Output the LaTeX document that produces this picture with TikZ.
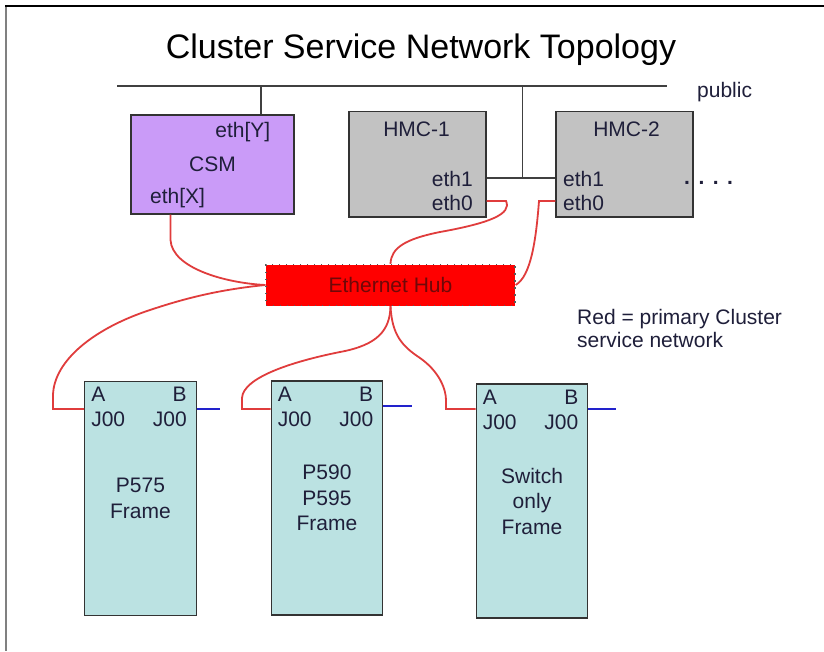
\documentclass[tikz,border=0pt]{standalone}
\usepackage{fontspec}
\setmainfont{Liberation Sans}
\definecolor{txt}{HTML}{1F1F3A}
\definecolor{csmfill}{HTML}{CA9BF8}
\definecolor{hmcfill}{HTML}{C2C2C2}
\definecolor{framefill}{HTML}{BBE2E2}
\definecolor{redline}{HTML}{E03C3C}
\definecolor{blueline}{HTML}{2222CC}
\definecolor{boxline}{HTML}{333333}
\definecolor{hubtext}{HTML}{700808}
\begin{document}
\begin{tikzpicture}[x=1pt,y=-1pt,
  lbl/.style={inner sep=0pt, text=txt, font=\fontsize{21}{25.5}\selectfont},
  box/.style={draw=boxline, line width=1.4pt, inner sep=0pt, text=txt,
              font=\fontsize{21}{25.5}\selectfont, align=center},
  csmbox/.style={box, fill=csmfill, minimum width=163pt, minimum height=99pt},
  hmcbox/.style={box, fill=hmcfill, minimum width=137pt, minimum height=105.5pt},
  framebox/.style={box, fill=framefill, minimum width=111.5pt, minimum height=234pt},
  hubbox/.style={fill=red, draw=black!65, line width=1.3pt, dash pattern=on 1.4pt off 5.6pt,
                 minimum width=249pt, minimum height=41pt, inner sep=0pt, text=hubtext,
                 font=\fontsize{21}{25.5}\selectfont},
  redlink/.style={draw=redline, line width=1.8pt},
  bluelink/.style={draw=blueline, line width=1.8pt},
  publink/.style={draw=black!75, line width=1.7pt},
]
\useasboundingbox (0,0) rectangle (824,651);
\fill[white] (0,0) rectangle (824,651);
% page frame
\draw[gray, line width=2pt] (6,5) -- (6,651);
\draw[black, line width=1.6pt] (5,6) -- (824,6);

% title
\node[lbl, anchor=base, text=black, font=\fontsize{34}{38}\selectfont] (title) at (421,58) {Cluster Service Network Topology};

% public network
\coordinate (pubL) at (117,86);
\coordinate (pubR) at (667,86);
\coordinate (pubCSM) at (261,86);
\coordinate (pubHMC) at (522.5,86);
\draw[publink] (pubL) -- (pubR);
\node[lbl, anchor=base west] (public) at (697,97) {public};

% boxes
\node[csmbox] (csm) at (212.5,164.5) {CSM};
\node[hmcbox] (hmc1) at (417.5,164.25) {};
\node[hmcbox] (hmc2) at (624.5,164.25) {};
\node[hubbox] (hub) at (390.5,285) {Ethernet Hub};
\node[framebox] (f1) at (140.5,498.5) {P575\\Frame};
\node[framebox] (f2) at (327,498) {P590\\P595\\Frame};
\node[framebox] (f3) at (532,501) {Switch\\only\\Frame};

% box labels
\node[lbl, anchor=base east] (ethY) at (270.5,137) {eth[Y]};
\node[lbl, anchor=base west] (ethX) at (150,203) {eth[X]};
\node[lbl, anchor=base] (hmc1t) at (416.5,136) {HMC-1};
\node[lbl, anchor=base east] (h1eth1) at (473,186) {eth1};
\node[lbl, anchor=base east] (h1eth0) at (473,210) {eth0};
\node[lbl, anchor=base] (hmc2t) at (626.5,136) {HMC-2};
\node[lbl, anchor=base west] (h2eth1) at (563,186) {eth1};
\node[lbl, anchor=base west] (h2eth0) at (563,210) {eth0};
\node[lbl, anchor=base west, font=\bfseries\fontsize{21}{25.5}\selectfont] (dots) at (684,184) {.\hspace{8.5pt}.\hspace{8.5pt}.\hspace{8.5pt}.};

% frame port labels
\foreach \f in {f1,f2,f3}{
  \node[lbl, anchor=base west] (\f A) at ([shift={(7,21)}]\f.north west) {A};
  \node[lbl, anchor=base east] (\f B) at ([shift={(-10,21)}]\f.north east) {B};
  \node[lbl, anchor=base west] (\f J) at ([shift={(7,46)}]\f.north west) {J00};
  \node[lbl, anchor=base east] (\f K) at ([shift={(-10,46)}]\f.north east) {J00};
}

% legend
\node[lbl, anchor=base west] (leg1) at (577,324) {Red = primary Cluster};
\node[lbl, anchor=base west] (leg2) at (577,347) {service network};

% public connections
\draw[publink] (pubCSM) -- (pubCSM |- csm.north);
\coordinate (h1e1) at (hmc1.east |- 0,178);
\coordinate (h2e1) at (hmc2.west |- 0,178);
\draw[publink] (pubHMC) -- (pubHMC |- h1e1);
\draw[publink] (h1e1) -- (h2e1);

% red service network
\coordinate (csmX) at (csm.south -| 170.5,0);
\draw[redlink] (csmX) -- (170.5,240) .. controls (172,268) and (225,283) .. (hub.west);
\coordinate (h1e0) at (hmc1.east |- 0,201);
\draw[redlink] (h1e0) -- (506,201) .. controls (512,214) and (490,223) .. (440,232)
   .. controls (405,239) and (391,248) .. (hub.north);
\coordinate (h2e0) at (hmc2.west |- 0,201);
\draw[redlink] (h2e0) -- (539,201) .. controls (536,240) and (531,276) .. (hub.east);

\coordinate (f1in) at (f1.west |- 0,409);
\coordinate (f2in) at (f2.west |- 0,409);
\coordinate (f3in) at (f3.west |- 0,409);
\draw[redlink] (hub.west) .. controls (215,290) and (180,300) .. (150,310)
   .. controls (95,328) and (54,360) .. (53,395) -- (53,409) -- (f1in);
\draw[redlink] (hub.south) .. controls (390,330) and (378,345) .. (340,352)
   .. controls (290,362) and (243,378) .. (242,398) -- (242,409) -- (f2in);
\draw[redlink] (hub.south) .. controls (392,335) and (402,346) .. (420,358)
   .. controls (440,372) and (446,390) .. (446,400) -- (446,409) -- (f3in);

% blue B-side stubs
\coordinate (f1out) at (220,409);
\coordinate (f2out) at (412,406);
\coordinate (f3out) at (616,409);
\draw[bluelink] (f1.east |- f1out) -- (f1out);
\draw[bluelink] (f2.east |- f2out) -- (f2out);
\draw[bluelink] (f3.east |- f3out) -- (f3out);
\end{tikzpicture}
\end{document}
